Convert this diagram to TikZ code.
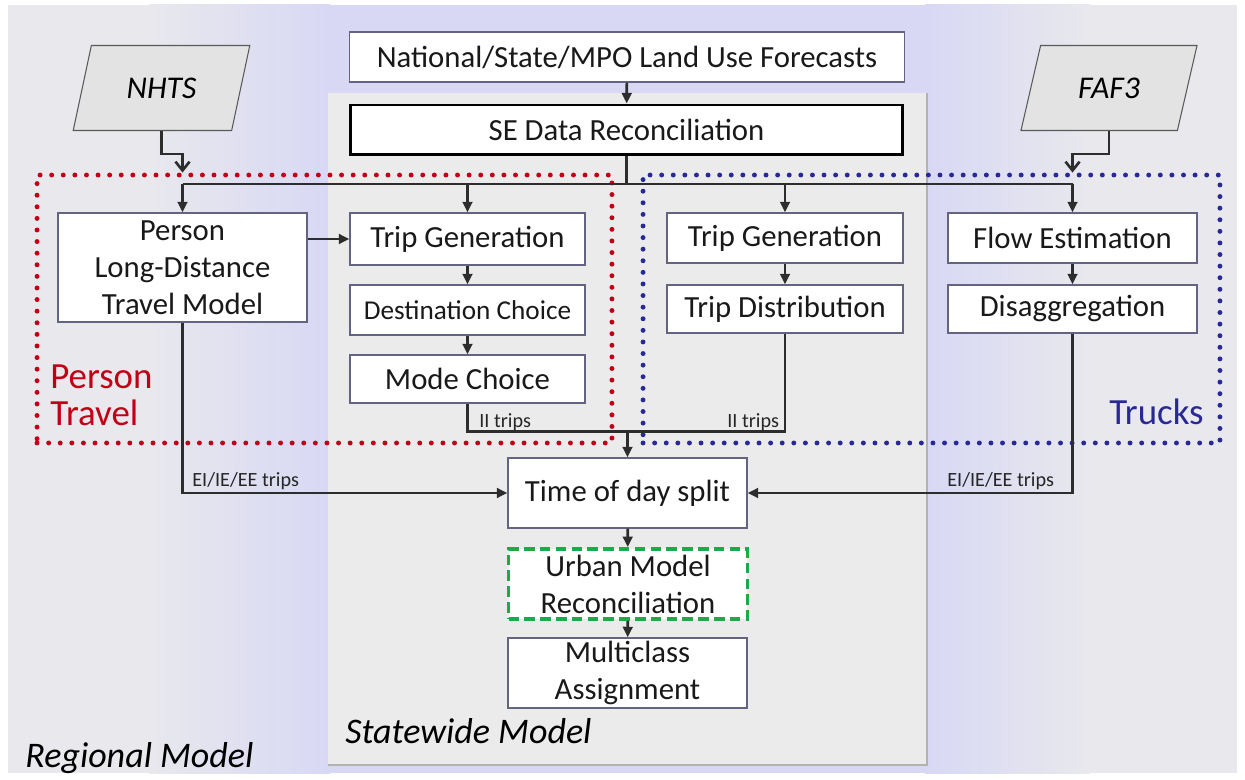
\documentclass[tikz,border=0pt]{standalone}
\usepackage{fontspec}
\setmainfont{Carlito}
\usetikzlibrary{shapes.geometric,arrows.meta}

\definecolor{bgedge}{RGB}{232,232,237}
\definecolor{bglav}{RGB}{216,216,245}
\definecolor{panelgray}{RGB}{235,235,236}
\definecolor{boxline}{RGB}{100,100,130}
\definecolor{flowline}{RGB}{45,45,45}
\definecolor{persred}{RGB}{192,0,20}
\definecolor{truckblue}{RGB}{40,40,150}
\definecolor{urbangreen}{RGB}{30,170,75}

\tikzset{
  box/.style={draw=boxline, line width=0.8pt, fill=white, align=center, inner sep=1pt, text=black!90, font=\fontsize{17.5}{21}\selectfont},
  databox/.style={trapezium, trapezium left angle=72, trapezium right angle=108, trapezium stretches=true, draw=gray!70!black, line width=0.6pt, fill=gray!22, minimum width=3.54cm, minimum height=1.7cm, font=\fontsize{18}{21}\selectfont\itshape},
  arrow/.style={draw=flowline, line width=1.5pt, -{Triangle[length=6pt,width=5.5pt]}},
  wire/.style={draw=flowline, line width=1.5pt},
  feed/.style={draw=flowline, line width=1.5pt, -{Straight Barb[length=5pt,width=8pt]}},
  group/.style={line width=2.8pt, dash pattern=on 0pt off 6.6pt, line cap=round, minimum width=11.5cm, minimum height=5.36cm},
  tag/.style={font=\fontsize{11.5}{13}\selectfont, text=black!85, inner sep=0pt},
}

\begin{document}
\begin{tikzpicture}[x=0.02cm, y=-0.02cm]
% Page and backgrounds
\fill[white] (0,0) rectangle (1245,780);
\useasboundingbox (0,0) rectangle (1245,780);
\fill[bglav] (8,5) rectangle (1237,773);
\fill[bgedge] (8,5) rectangle (150,773);
\fill[left color=bgedge, right color=bglav] (149,5) rectangle (330,773);
\fill[left color=bglav, right color=bgedge] (925,5) rectangle (1090,773);
\fill[bgedge] (1089,5) rectangle (1237,773);
\fill[panelgray] (328,93) rectangle (927,765);
\draw[gray!60, line width=1pt] (927,93) -- (927,765) -- (328,765);

% Inputs
\node[box, minimum width=11.1cm, minimum height=1cm] (landuse) at (627,57) {National/State/MPO Land Use Forecasts};
\node[box, draw=black, line width=1.7pt, minimum width=11.06cm, minimum height=1cm] (sedata) at (626.5,130) {SE Data Reconciliation};
\node[databox] (nhts) at (161.5,88) {NHTS};
\node[databox] (faf) at (1109,88) {FAF3};

% Person travel column
\node[box, minimum width=4.98cm, minimum height=2.18cm] (pldm) at (182.5,267.5) {Person\\Long-Distance\\Travel Model};
\node[box, minimum width=4.7cm, minimum height=1.04cm] (tgperson) at (467.5,239) {Trip Generation};
\node[box, minimum width=4.7cm, minimum height=1cm, font=\fontsize{15.5}{18}\selectfont] (destch) at (467.5,310) {Destination Choice};
\node[box, minimum width=4.7cm, minimum height=0.96cm] (modech) at (467.5,379) {Mode Choice};

% Truck columns
\node[box, minimum width=4.72cm, minimum height=1cm] (tgtruck) at (785,238) {Trip Generation};
\node[box, minimum width=4.72cm, minimum height=0.96cm] (tripdist) at (785,309) {Trip Distribution};
\node[box, minimum width=4.98cm, minimum height=1cm] (flowest) at (1072.5,238) {Flow Estimation};
\node[box, minimum width=4.98cm, minimum height=0.96cm] (disagg) at (1072.5,309) {Disaggregation};

% Lower chain
\node[box, minimum width=4.78cm, minimum height=1.4cm] (tod) at (627.5,493) {Time of day split};
\node[box, draw=urbangreen, line width=2.2pt, dash pattern=on 6pt off 3pt, minimum width=4.78cm, minimum height=1.4cm] (urban) at (628,584) {Urban Model\\Reconciliation};
\node[box, minimum width=4.78cm, minimum height=1.4cm] (assign) at (627.5,673) {Multiclass\\Assignment};

% Dotted groups
\node[group, draw=persred] (persongrp) at (324.5,309) {};
\node[group, draw=truckblue, minimum width=11.54cm] (truckgrp) at (931.5,309) {};

% Connectors
\draw[feed] (nhts.center |- nhts.south) -- ++(0,23) -| (pldm.north |- persongrp.north);
\draw[feed] (faf.center |- faf.south) -- ++(0,23) -| (flowest.north |- truckgrp.north);
\draw[arrow] (landuse) -- (sedata);
\draw[wire] (sedata.south) -- (sedata.south |- 0,184) coordinate (split);
\draw[wire] (split -| pldm) -- (split -| flowest);
\foreach \n in {pldm,tgperson,tgtruck,flowest}
  \draw[arrow] (split -| \n) -- (\n.north);
\draw[arrow] (pldm.east |- tgperson) -- (tgperson.west);
\draw[arrow] (tgperson) -- (destch);
\draw[arrow] (destch) -- (modech);
\draw[arrow] (tgtruck) -- (tripdist);
\draw[arrow] (flowest) -- (disagg);
\draw[wire] (modech.south) -- ++(0,28) coordinate (iijoin) -| (tripdist.south);
\draw[arrow] (iijoin -| tod) -- (tod.north);
\draw[arrow] (pldm.south) |- (tod.west);
\draw[arrow] (disagg.south) |- (tod.east);
\draw[arrow] (tod) -- (urban);
\draw[arrow] (urban) -- (assign);

% Flow labels
\node[tag, anchor=base west] (iileft) at (479,428) {II trips};
\node[tag, anchor=base west] (iiright) at (727,428) {II trips};
\node[tag, anchor=base west] (eileft) at (192,487) {EI/IE/EE trips};
\node[tag, anchor=base west] (eiright) at (947,487) {EI/IE/EE trips};

% Group and model names
\node[anchor=north west, align=left, inner sep=0pt, text=persred, font=\fontsize{21}{21.5}\selectfont] (perslbl) at (50,364) {Person\\Travel};
\node[anchor=base east, inner sep=0pt, text=truckblue, font=\fontsize{21}{21.5}\selectfont] (trucklbl) at (1204,425) {Trucks};
\node[anchor=base west, inner sep=0pt, font=\fontsize{20.5}{22}\selectfont\itshape] (statelbl) at (345,743) {Statewide Model};
\node[anchor=base west, inner sep=0pt, font=\fontsize{20.5}{22}\selectfont\itshape] (reglbl) at (25,767) {Regional Model};
\end{tikzpicture}
\end{document}
